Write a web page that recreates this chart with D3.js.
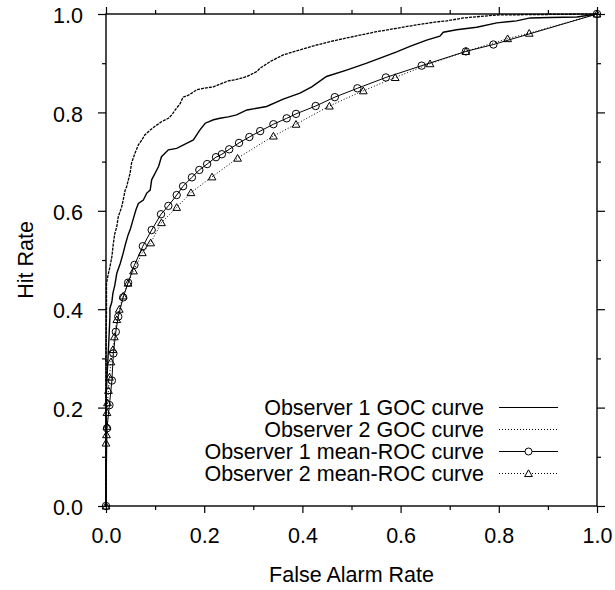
<!DOCTYPE html>
<html>
<head>
<meta charset="utf-8">
<script src="https://cdn.jsdelivr.net/npm/d3@7"></script>
<style>
  body { margin: 0; background: #fff; }
  svg text { font-family: "Liberation Sans", Arial, Helvetica, sans-serif; font-size: 21.5px; fill: #000; }
</style>
</head>
<body>
<script>
// Observer 1 GOC curve (solid) [false alarm, hit]
const goc1 = [
  [0,0],[0,0.22],[0.002,0.26],[0.004,0.30],[0.006,0.34],[0.008,0.385],[0.008,0.402],
  [0.012,0.415],[0.014,0.432],[0.018,0.449],[0.022,0.473],[0.029,0.493],[0.035,0.514],
  [0.039,0.530],[0.045,0.551],[0.050,0.564],[0.056,0.585],[0.061,0.602],[0.066,0.615],
  [0.076,0.622],[0.083,0.636],[0.090,0.642],[0.093,0.663],[0.107,0.690],[0.113,0.710],
  [0.127,0.724],[0.144,0.727],[0.164,0.737],[0.178,0.744],[0.191,0.764],[0.202,0.778],
  [0.219,0.785],[0.232,0.788],[0.249,0.791],[0.266,0.795],[0.287,0.805],[0.293,0.806],
  [0.327,0.812],[0.361,0.827],[0.395,0.839],[0.419,0.852],[0.449,0.873],[0.490,0.886],
  [0.531,0.900],[0.565,0.913],[0.592,0.923],[0.619,0.934],[0.653,0.947],[0.680,0.955],
  [0.687,0.963],[0.714,0.968],[0.755,0.973],[0.796,0.982],[0.836,0.986],[0.864,0.992],
  [0.904,0.993],[0.959,0.994],[1,1]
];

// Observer 2 GOC curve (dotted)
const goc2 = [
  [0,0],[0,0.30],[0.001,0.40],[0.001,0.453],[0.005,0.473],[0.008,0.486],[0.012,0.507],
  [0.015,0.534],[0.018,0.554],[0.022,0.568],[0.025,0.588],[0.032,0.608],[0.035,0.622],
  [0.039,0.642],[0.042,0.649],[0.049,0.676],[0.052,0.697],[0.059,0.717],[0.066,0.734],
  [0.073,0.744],[0.079,0.754],[0.090,0.764],[0.100,0.772],[0.113,0.781],[0.127,0.788],
  [0.134,0.795],[0.141,0.805],[0.151,0.818],[0.157,0.831],[0.168,0.835],[0.185,0.846],
  [0.198,0.849],[0.219,0.852],[0.236,0.859],[0.249,0.864],[0.266,0.867],[0.287,0.873],
  [0.293,0.876],[0.307,0.883],[0.314,0.890],[0.334,0.903],[0.361,0.917],[0.395,0.927],
  [0.429,0.937],[0.470,0.947],[0.517,0.957],[0.551,0.964],[0.592,0.971],[0.633,0.978],
  [0.673,0.984],[0.694,0.986],[0.728,0.992],[0.762,0.995],[0.796,0.998],[1,1]
];

// Observer 1 mean-ROC curve (circles)
const roc1 = [
  [0,0],[0.002,0.158],[0.007,0.205],[0.012,0.255],[0.015,0.310],[0.020,0.354],[0.025,0.385],
  [0.035,0.424],[0.045,0.454],[0.058,0.490],[0.075,0.528],[0.093,0.561],[0.112,0.593],
  [0.127,0.610],[0.144,0.632],[0.157,0.650],[0.175,0.668],[0.190,0.683],[0.206,0.695],
  [0.224,0.709],[0.236,0.715],[0.251,0.725],[0.271,0.738],[0.292,0.750],[0.314,0.762],
  [0.341,0.776],[0.368,0.788],[0.387,0.797],[0.427,0.813],[0.466,0.831],[0.512,0.849],
  [0.570,0.871],[0.643,0.895],[0.733,0.924],[0.789,0.938],[1,1]
];

// Observer 2 mean-ROC curve (triangles)
const roc2 = [
  [0,0],[0,0.128],[0.001,0.145],[0.002,0.162],[0.002,0.19],[0.003,0.21],[0.005,0.235],
  [0.007,0.262],[0.010,0.293],[0.014,0.318],[0.017,0.344],[0.022,0.379],[0.027,0.400],
  [0.035,0.427],[0.045,0.453],[0.056,0.478],[0.074,0.515],[0.091,0.535],[0.113,0.576],
  [0.144,0.607],[0.173,0.637],[0.216,0.669],[0.268,0.707],[0.341,0.752],[0.387,0.776],
  [0.455,0.813],[0.524,0.844],[0.589,0.871],[0.660,0.899],[0.733,0.924],[0.818,0.950],
  [0.862,0.961],[1,1]
];

const legendLabels = ["Observer 1 GOC curve", "Observer 2 GOC curve",
                      "Observer 1 mean-ROC curve", "Observer 2 mean-ROC curve"];
const majorTicks = [0, 0.2, 0.4, 0.6, 0.8, 1.0];
const minorTicks = [0.1, 0.3, 0.5, 0.7, 0.9];

const W = 615, H = 590;
const mLeft = 106, mRight = 597, mTop = 14, mBottom = 506;

const svg = d3.select("body").append("svg")
  .attr("width", W).attr("height", H);

const x = d3.scaleLinear().domain([0, 1]).range([mLeft, mRight]);
const y = d3.scaleLinear().domain([0, 1]).range([mBottom, mTop]);
const fmt = d3.format(".1f");

// axes: labelled majors on bottom/left, bare ticks elsewhere
function addAxis(axis, tx, ty) {
  const g = svg.append("g").attr("transform", `translate(${tx},${ty})`).call(axis);
  g.select(".domain").remove();
  g.selectAll(".tick line").attr("stroke", "#000").attr("stroke-width", 1.2);
  g.selectAll(".tick text").attr("fill", "#000").style("font-size", "21.5px")
    .style("font-family", '"Liberation Sans", Arial, sans-serif');
  return g;
}
addAxis(d3.axisBottom(x).tickValues(majorTicks).tickSize(7).tickPadding(15).tickFormat(fmt), 0, mBottom);
addAxis(d3.axisBottom(x).tickValues(minorTicks).tickSize(4).tickFormat(""), 0, mBottom);
addAxis(d3.axisTop(x).tickValues(majorTicks).tickSize(7).tickFormat(""), 0, mTop);
addAxis(d3.axisTop(x).tickValues(minorTicks).tickSize(4).tickFormat(""), 0, mTop);
addAxis(d3.axisLeft(y).tickValues(majorTicks).tickSize(8).tickPadding(15).tickFormat(fmt), mLeft, 0)
  .selectAll(".tick text").attr("dy", "0.4em");
addAxis(d3.axisLeft(y).tickValues(minorTicks).tickSize(4).tickFormat(""), mLeft, 0);
addAxis(d3.axisRight(y).tickValues(majorTicks).tickSize(8).tickFormat(""), mRight, 0);
addAxis(d3.axisRight(y).tickValues(minorTicks).tickSize(4).tickFormat(""), mRight, 0);

// frame
svg.append("rect")
  .attr("x", mLeft).attr("y", mTop)
  .attr("width", mRight - mLeft).attr("height", mBottom - mTop)
  .attr("fill", "none").attr("stroke", "#000").attr("stroke-width", 1.4);

// axis titles
svg.append("text")
  .attr("x", (mLeft + mRight) / 2).attr("y", 582)
  .attr("text-anchor", "middle")
  .text("False Alarm Rate");
svg.append("text")
  .attr("transform", `translate(33,${(mTop + mBottom) / 2}) rotate(-90)`)
  .attr("text-anchor", "middle")
  .text("Hit Rate");

const line = d3.line().x(d => x(d[0])).y(d => y(d[1]));

// curves
svg.append("path").datum(goc2).attr("d", line)
  .attr("fill", "none").attr("stroke", "#000").attr("stroke-width", 1.3)
  .attr("stroke-dasharray", "3,1");
svg.append("path").datum(goc1).attr("d", line)
  .attr("fill", "none").attr("stroke", "#000").attr("stroke-width", 1.4);
svg.append("path").datum(roc2).attr("d", line)
  .attr("fill", "none").attr("stroke", "#000").attr("stroke-width", 1)
  .attr("stroke-dasharray", "1,2");
svg.append("path").datum(roc1).attr("d", line)
  .attr("fill", "none").attr("stroke", "#000").attr("stroke-width", 1);

const tri = d3.symbol().type(d3.symbolTriangle).size(26);

svg.append("g").selectAll("path").data(roc2).join("path")
  .attr("d", tri)
  .attr("transform", d => `translate(${x(d[0])},${y(d[1]) + 0.8})`)
  .attr("fill", "none").attr("stroke", "#000").attr("stroke-width", 1);

svg.append("g").selectAll("circle").data(roc1).join("circle")
  .attr("cx", d => x(d[0])).attr("cy", d => y(d[1])).attr("r", 3.7)
  .attr("fill", "none").attr("stroke", "#000").attr("stroke-width", 1);

// legend
const legend = svg.append("g").selectAll("g").data(legendLabels).join("g")
  .attr("transform", (d, i) => `translate(0,${415 + i * 22})`);

legend.append("text")
  .attr("x", 484).attr("y", 0)
  .attr("text-anchor", "end")
  .text(d => d);

legend.append("line")
  .attr("x1", 499).attr("x2", 558).attr("y1", -7.5).attr("y2", -7.5)
  .attr("stroke", "#000").attr("stroke-width", 1)
  .attr("stroke-dasharray", (d, i) => i % 2 ? "1,2" : null);

legend.filter((d, i) => i === 2).append("circle")
  .attr("cx", 528.5).attr("cy", -7.5).attr("r", 3.5)
  .attr("fill", "#fff").attr("stroke", "#000");

legend.filter((d, i) => i === 3).append("path")
  .attr("d", tri)
  .attr("transform", "translate(528.5,-6.7)")
  .attr("fill", "#fff").attr("stroke", "#000");
</script>
</body>
</html>
